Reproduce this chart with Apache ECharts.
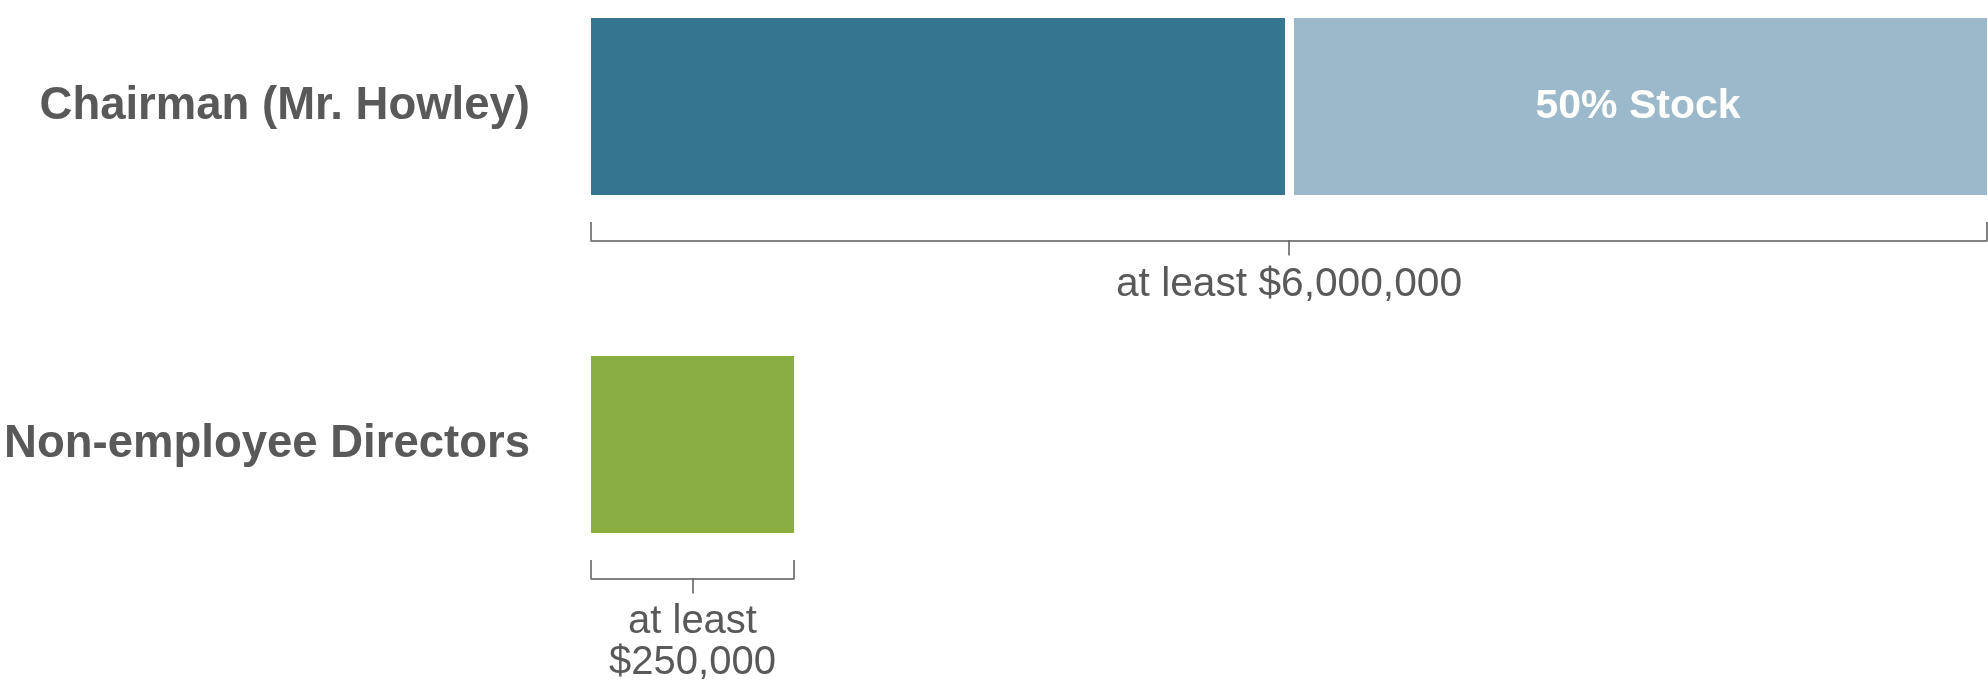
<!DOCTYPE html>
<html>
<head>
<meta charset="utf-8">
<script src="https://cdn.jsdelivr.net/npm/echarts@6/dist/echarts.min.js"></script>
<style>
  html, body { margin: 0; padding: 0; background: #ffffff; }
  #chart { width: 1988px; height: 698px; }
</style>
</head>
<body>
<div id="chart"></div>
<script>
// ---- data ----
const categories = ['Chairman (Mr. Howley)', 'Non-employee Directors'];
const chairmanCash = [3000000];
const chairmanStock = [3000000];
const directorsRetainer = [250000];
const chairmanTotal = 6000000;
const directorsTotal = 250000;
const stockLabel = '50% Stock';
const bracketLabels = ['at least $6,000,000', 'at least\n$250,000'];

// ---- styles ----
const FONT = '"Liberation Sans", Arial, Helvetica, sans-serif';
const GREY = '#595959';
const C_CASH = '#36758F';
const C_STOCK = '#9BB9CA';
const C_DIR = '#8AAE41';

const chart = echarts.init(document.getElementById('chart'), null, { renderer: 'canvas' });

function bracketAxes(gridIndex, total, label, fontSize, margin) {
  return [
    {
      type: 'value', gridIndex: gridIndex, position: 'bottom', offset: 45.5,
      min: 0, max: total, interval: total,
      axisLine: { show: true, onZero: false, lineStyle: { color: GREY, width: 1.5 } },
      axisTick: { show: true, inside: true, length: 18.5, lineStyle: { color: GREY, width: 1.5 } },
      axisLabel: { show: false },
      splitLine: { show: false }
    },
    {
      type: 'value', gridIndex: gridIndex, position: 'bottom', offset: 45.5,
      min: 0, max: total,
      axisLine: { show: false, onZero: false },
      axisTick: { show: true, inside: false, length: 15, customValues: [total / 2],
                  lineStyle: { color: GREY, width: 1.5 } },
      axisLabel: {
        show: true, customValues: [total / 2], margin: margin,
        formatter: function () { return label; },
        fontFamily: FONT, fontSize: fontSize, color: GREY, lineHeight: 41, align: 'center'
      },
      splitLine: { show: false }
    }
  ];
}

const option = {
  backgroundColor: '#ffffff',
  animation: false,
  grid: [
    { left: 591, right: 1, top: 18, height: 177, containLabel: false },
    { left: 591, width: 203, top: 356, height: 177, containLabel: false }
  ],
  xAxis: [].concat(
    bracketAxes(0, chairmanTotal, bracketLabels[0], 40.7, 24),
    bracketAxes(1, directorsTotal, bracketLabels[1], 40, 23)
  ),
  yAxis: [0, 1].map(function (i) {
    return {
      type: 'category', gridIndex: i, data: [categories[i]],
      axisLine: { show: false }, axisTick: { show: false }, splitLine: { show: false },
      axisLabel: {
        margin: 61, fontFamily: FONT, fontSize: 45.5, fontWeight: 'bold', color: GREY
      }
    };
  }),
  series: [
    {
      name: 'Cash', type: 'bar', stack: 'chair', xAxisIndex: 0, yAxisIndex: 0,
      barWidth: '100%', data: chairmanCash,
      itemStyle: { color: C_CASH }, silent: true
    },
    {
      name: 'Stock', type: 'bar', stack: 'chair', xAxisIndex: 0, yAxisIndex: 0,
      barWidth: '100%', data: chairmanStock,
      itemStyle: { color: C_STOCK }, silent: true,
      label: {
        show: true, position: 'inside', formatter: stockLabel,
        fontFamily: FONT, fontSize: 41, fontWeight: 'bold', color: '#ffffff'
      },
      markLine: {
        silent: true, symbol: ['none', 'none'], label: { show: false },
        lineStyle: { color: '#ffffff', width: 9, type: 'solid' },
        data: [{ xAxis: chairmanCash[0] }]
      }
    },
    {
      name: 'Directors', type: 'bar', xAxisIndex: 2, yAxisIndex: 1,
      barWidth: '100%', data: directorsRetainer,
      itemStyle: { color: C_DIR }, silent: true
    }
  ]
};

chart.setOption(option);
</script>
</body>
</html>
